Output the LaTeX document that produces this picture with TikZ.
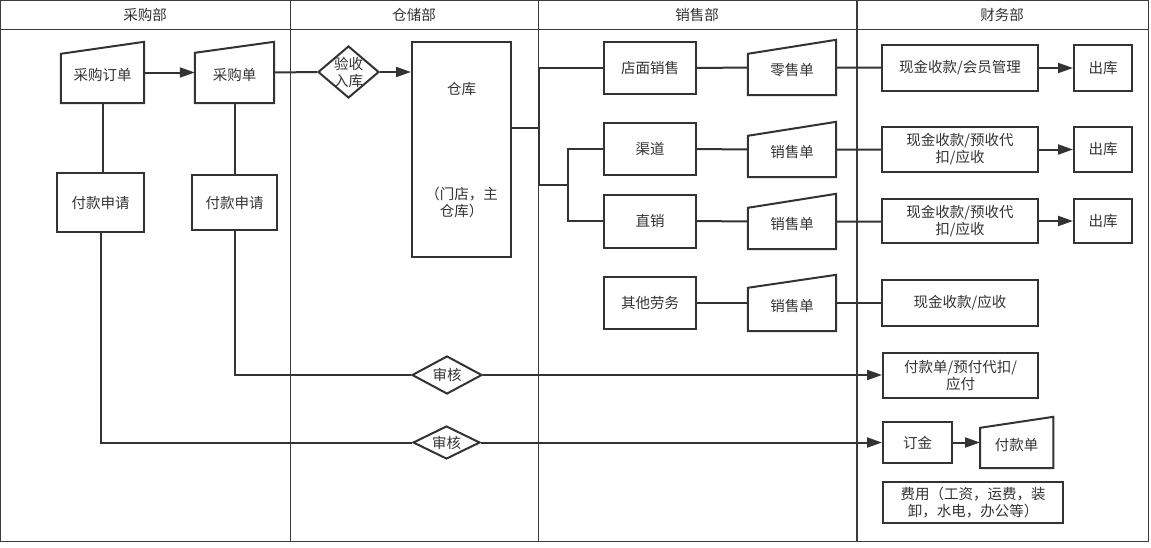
\documentclass[tikz,border=0pt]{standalone}
\usepackage{fontspec}
\setmainfont{Noto Sans CJK SC}
\usetikzlibrary{arrows.meta,shapes.geometric,positioning}
\definecolor{ink}{HTML}{333333}
\definecolor{rule}{HTML}{3C3C3C}

\begin{document}
\begin{tikzpicture}[
  x=1pt, y=-1pt,
  every node/.style={font=\fontsize{14.5}{17}\selectfont, text=ink},
  box/.style={draw=ink, line width=2pt, align=center, inner sep=1pt},
  docbox/.style={inner sep=1pt, align=center, text height=18pt, text depth=2pt},
  gate/.style={diamond, draw=ink, line width=2pt, inner sep=0pt},
  lane/.style={draw=rule, line width=1pt},
  link/.style={draw=ink, line width=2pt},
  flow/.style={link, -{Triangle[length=15pt, width=10pt]}}
]
  \useasboundingbox (0,0) rectangle (1151,547);

  % lanes
  \draw[lane] (0,0) rectangle (1148,541);
  \draw[lane] (0,29) -- (1148,29);
  \foreach \x in {290.5,538.5} \draw[lane] (\x,0) -- (\x,541);
  \draw[lane, line width=1.5pt] (857,0) -- (857,541);

  \node (hdBuy)   at (145,15)  {采购部};
  \node (hdStore) at (414,15)  {仓储部};
  \node (hdSale)  at (697,15)  {销售部};
  \node (hdFin)   at (1002,15) {财务部};

  % purchase
  \node[docbox, minimum width=83pt, minimum height=61pt] (po) at (102.5,72.5) {采购订单};
  \node[docbox, minimum width=79pt, minimum height=61pt] (pur) at (234.5,72.5) {采购单};
  \node[box, minimum width=87pt, minimum height=59pt] (askA) at (100.5,202.5) {付款申请};
  \node[box, minimum width=85pt, minimum height=55pt] (askB) at (234.5,202.5) {付款申请};

  % storage
  \node[gate, minimum width=61pt, minimum height=52pt,
        label={[align=center]center:验收\\入库}] (check) at (348.5,72) {};
  \node[box, minimum width=99pt, minimum height=215pt] (wh) at (461.5,149.5) {};
  \node (whName) at (461.5,89) {仓库};
  \node[align=center] (whNote) at (461.5,202.5) {（门店，主\\仓库）};

  \node[gate, minimum width=70pt, minimum height=38pt, label={center:审核}] (audA) at (447,375) {};
  \node[gate, minimum width=67pt, minimum height=33pt, label={center:审核}] (audB) at (446.5,442.5) {};

  % sales
  \node[box, minimum width=92pt, minimum height=52pt] (shop) at (650,68) {店面销售};
  \node[box, minimum width=92pt, minimum height=52pt] (chan) at (650,149) {渠道};
  \node[box, minimum width=92pt, minimum height=53pt] (direct) at (650,221) {直销};
  \node[box, minimum width=92pt, minimum height=52pt] (other) at (650,303) {其他劳务};
  \node[docbox, minimum width=88pt, minimum height=55pt] (retail) at (792,67.5) {零售单};
  \node[docbox, minimum width=88pt, minimum height=55pt] (saleA) at (792,149.5) {销售单};
  \node[docbox, minimum width=88pt, minimum height=55pt] (saleB) at (792,221.5) {销售单};
  \node[docbox, minimum width=88pt, minimum height=56pt] (saleC) at (792,303) {销售单};

  % finance
  \node[box, minimum width=156pt, minimum height=46pt] (cashA) at (960,68) {现金收款/会员管理};
  \node[box, minimum width=58pt, minimum height=46pt, right=34pt of cashA] (outA) {出库};
  \node[box, minimum width=156pt, minimum height=45pt] (cashB) at (960,149.5) {现金收款/预收代\\扣/应收};
  \node[box, minimum width=58pt, minimum height=45pt, right=34pt of cashB] (outB) {出库};
  \node[box, minimum width=156pt, minimum height=44pt] (cashC) at (960,221) {现金收款/预收代\\扣/应收};
  \node[box, minimum width=58pt, minimum height=44pt, right=34pt of cashC] (outC) {出库};
  \node[box, minimum width=156pt, minimum height=46pt] (cashD) at (960,303) {现金收款/应收};
  \node[box, minimum width=155pt, minimum height=45pt] (payable) at (960.5,375.5) {付款单/预付代扣/\\应付};
  \node[box, minimum width=69pt, minimum height=41pt] (deposit) at (917.5,442.5) {订金};
  \node[docbox, minimum width=73pt, minimum height=51pt, right=27pt of deposit] (payslip) {付款单};
  \node[box, minimum width=180pt, minimum height=41pt] (expense) at (973,502.5) {费用（工资，运费，装\\卸，水电，办公等）};

  \foreach \d/\s in {po/12,pur/11,retail/14,saleA/14,saleB/14,saleC/13,payslip/11}
    \draw[link] (\d.south west) -- ([yshift=-\s pt]\d.north west) -- (\d.north east)
      -- (\d.south east) -- cycle;

  % connectors
  \draw[flow] (po.east) -- (pur.west);
  \draw[link] (pur.east) -- (check.west);
  \draw[flow] (check.east) -- (check.east -| wh.west);
  \draw[link] (po.south) -- (po.south |- askA.north);
  \draw[link] (pur.south) -- (askB.north);
  \draw[link] (askA.south) |- (audB.west);
  \draw[link] (askB.south) |- (audA.west);
  \draw[flow] (audA.east) -- (audA.east -| payable.west);
  \draw[flow] (audB.east) -- (audB.east -| deposit.west);
  \draw[flow] (deposit.east) -- (payslip.west);

  \coordinate (busA) at (539,128);
  \coordinate (busB) at (568,185);
  \draw[link] (wh.east |- busA) -- (busA);
  \draw[link] (shop.west) -| (busA) |- (busB);
  \draw[link] (chan.west) -| (busB) |- (direct.west);

  \foreach \a/\b/\c in {shop/retail/cashA,chan/saleA/cashB,direct/saleB/cashC,other/saleC/cashD}
    \draw[link] (\a.east) -- (\b.west) (\b.east) -- (\b.east -| \c.west);
  \foreach \c/\o in {cashA/outA,cashB/outB,cashC/outC}
    \draw[flow] (\c.east) -- (\o.west);
\end{tikzpicture}
\end{document}
